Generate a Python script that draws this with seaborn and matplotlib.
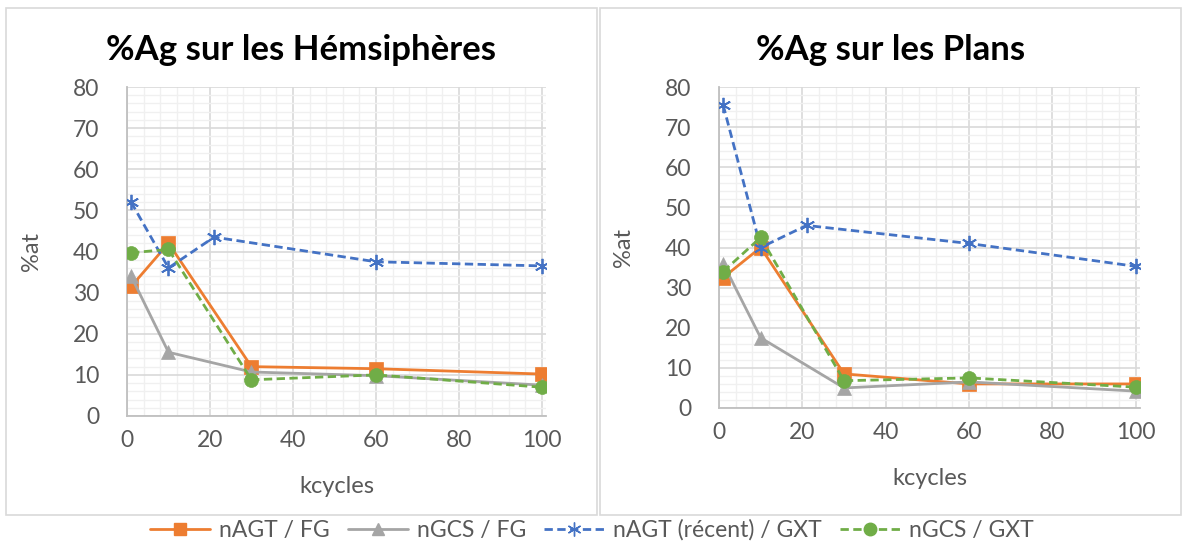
import numpy as np
import pandas as pd
import seaborn as sns
import matplotlib.pyplot as plt
from matplotlib.patches import Rectangle
from matplotlib.lines import Line2D
from matplotlib.ticker import MultipleLocator

# valeurs
kcycles = [1, 10, 30, 60, 100]
kcycles_recent = [1, 10, 21, 60, 100]

hemi_nagt_fg = [31.5, 42.0, 12.0, 11.5, 10.2]
hemi_ngcs_fg = [34.0, 15.5, 10.7, 9.8, 7.5]
hemi_nagt_gxt = [52.0, 36.0, 43.5, 37.5, 36.5]
hemi_ngcs_gxt = [39.7, 40.5, 8.8, 10.0, 7.0]

plans_nagt_fg = [32.5, 40.0, 8.5, 6.0, 6.0]
plans_ngcs_fg = [36.0, 17.5, 5.0, 6.5, 4.2]
plans_nagt_gxt = [75.5, 40.0, 45.5, 41.0, 35.3]
plans_ngcs_gxt = [34.0, 42.5, 6.8, 7.5, 5.2]

noms = ['nAGT / FG', 'nGCS / FG', 'nAGT (récent) / GXT', 'nGCS / GXT']
couleurs = ['#ED7D31', '#A5A5A5', '#4472C4', '#70AD47']
marqueurs = ['s', '^', (6, 2, 0), 'o']
tailles = [10, 10, 11, 10]
styles = ['-', '-', (0, (3, 1.6)), (0, (3, 1.6))]

sns.set_style('white')
plt.rcParams['font.family'] = ['Lato', 'DejaVu Sans']

fig = plt.figure(figsize=(11.84, 5.47), dpi=100)
W, H = 1184, 547


def px_axes(x0, x1, y0, y1):
    return fig.add_axes([x0 / W, 1 - y1 / H, (x1 - x0) / W, (y1 - y0) / H])


# cadres des deux graphiques
cadres = [(5.5, 597), (600, 1181)]
for (a, b) in cadres:
    fig.patches.append(Rectangle((a / W, 1 - 515 / H), (b - a) / W, (515 - 7.5) / H,
                                 transform=fig.transFigure, fill=False,
                                 edgecolor='#D9D9D9', linewidth=1.2))

ax1 = px_axes(127, 546, 87, 416)
ax2 = px_axes(719, 1140, 87, 408)

panneaux = [
    (ax1, '%Ag sur les Hémsiphères', [hemi_nagt_fg, hemi_ngcs_fg, hemi_nagt_gxt, hemi_ngcs_gxt], cadres[0]),
    (ax2, '%Ag sur les Plans', [plans_nagt_fg, plans_ngcs_fg, plans_nagt_gxt, plans_ngcs_gxt], cadres[1]),
]

for ax, titre, series, cadre in panneaux:
    for i, valeurs in enumerate(series):
        xs = kcycles_recent if i == 2 else kcycles
        df = pd.DataFrame({'kcycles': xs, 'at': valeurs})
        sns.lineplot(data=df, x='kcycles', y='at', ax=ax, color=couleurs[i],
                     linestyle=styles[i], linewidth=2, marker=marqueurs[i],
                     markersize=tailles[i], markeredgecolor=couleurs[i],
                     markeredgewidth=1.3 if i == 2 else 0.5, zorder=3 + i)
    ax.set_xlim(0, 101)
    ax.set_ylim(0, 80)
    ax.xaxis.set_major_locator(MultipleLocator(20))
    ax.xaxis.set_minor_locator(MultipleLocator(4))
    ax.yaxis.set_major_locator(MultipleLocator(10))
    ax.yaxis.set_minor_locator(MultipleLocator(2))
    ax.grid(which='major', color='#D9D9D9', linewidth=1.2)
    ax.grid(which='minor', color='#F0F0F0', linewidth=1)
    ax.set_axisbelow(True)
    for s in ['top', 'right']:
        ax.spines[s].set_visible(False)
    for s in ['left', 'bottom']:
        ax.spines[s].set_color('#BFBFBF')
        ax.spines[s].set_linewidth(1.3)
    ax.tick_params(axis='x', which='major', direction='inout', length=14, width=1.3,
                   color='#BFBFBF', labelsize=16.5, labelcolor='#595959', pad=3)
    ax.tick_params(axis='x', which='minor', direction='inout', length=10, width=1.2,
                   color='#BFBFBF')
    ax.tick_params(axis='y', which='major', direction='in', length=0,
                   labelsize=16.5, labelcolor='#595959', pad=20)
    ax.tick_params(axis='y', which='minor', length=0)
    ax.set_xlabel('kcycles', fontsize=17, color='#595959', labelpad=18)
    ax.set_ylabel('%at', fontsize=17, color='#595959', labelpad=22)
    fig.text((cadre[0] + cadre[1]) / 2 / W, 1 - 50 / H, titre, ha='center', va='center',
             fontsize=25, fontweight='bold', color='black')

poignees = [Line2D([0], [0], color=couleurs[i], linestyle=styles[i], linewidth=2,
                   marker=marqueurs[i], markersize=tailles[i] - 1,
                   markeredgecolor=couleurs[i]) for i in range(4)]
fig.legend(poignees, noms, loc='center', bbox_to_anchor=(0.5, 1 - 530 / H), ncol=4,
           frameon=False, fontsize=16.5, labelcolor='#595959', handlelength=2.6,
           columnspacing=0.8, handletextpad=0.4)

fig.savefig('out.png', dpi=100, facecolor='white')
